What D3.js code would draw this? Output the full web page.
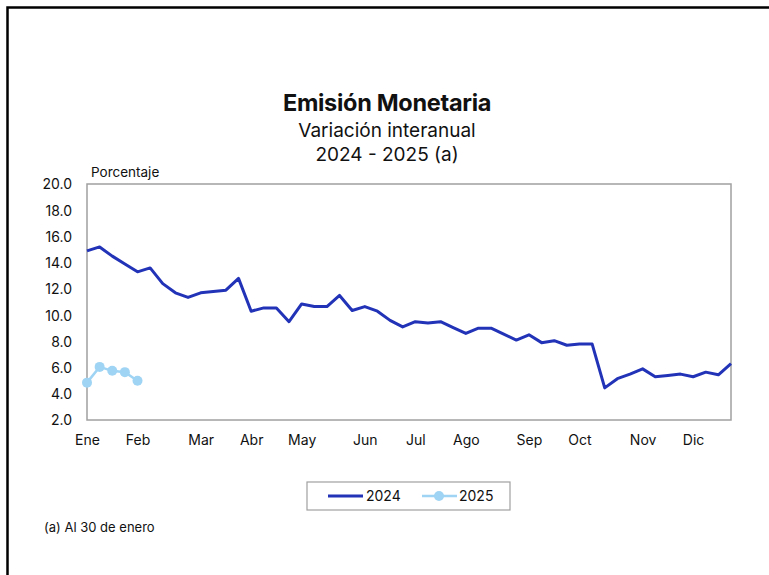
<!DOCTYPE html>
<html>
<head>
<meta charset="utf-8">
<script src="https://cdn.jsdelivr.net/npm/d3@7"></script>
<style>
  body { margin: 0; background: #fff; }
  text { font-family: Inter, "Noto Sans", sans-serif; fill: #111; }
</style>
</head>
<body>
<div id="chart"></div>
<script>
// weekly data, 52 weeks
var monthLabels = ["Ene", "Feb", "Mar", "Abr", "May", "Jun", "Jul", "Ago", "Sep", "Oct", "Nov", "Dic"];
var monthWeek = [0, 4, 9, 13, 17, 22, 26, 30, 35, 39, 44, 48];
var serie2024 = [14.9, 15.2, 14.5, 13.9, 13.3, 13.6, 12.4, 11.7, 11.35, 11.7,
                 11.8, 11.9, 12.8, 10.3, 10.55, 10.55, 9.5, 10.85, 10.65, 10.65,
                 11.5, 10.35, 10.65, 10.3, 9.6, 9.1, 9.5, 9.4, 9.5, 9.05,
                 8.6, 9.0, 9.0, 8.55, 8.1, 8.5, 7.9, 8.05, 7.7, 7.8,
                 7.8, 4.45, 5.15, 5.5, 5.9, 5.3, 5.4, 5.5, 5.3, 5.65,
                 5.45, 6.3];
var serie2025 = [4.85, 6.05, 5.75, 5.65, 5.0];
var yTicks = [2, 4, 6, 8, 10, 12, 14, 16, 18, 20];

var svgWidth = 769, svgHeight = 575;
var margin = {top: 184, right: 38, bottom: 155, left: 87};
var width = svgWidth - margin.left - margin.right;
var height = svgHeight - margin.top - margin.bottom;

var svgBG = d3.select("#chart").append("svg")
    .attr("width", svgWidth)
    .attr("height", svgHeight);

// outer frame (right/bottom edges run off the page)
svgBG.append("rect")
    .attr("x", 7.5).attr("y", 7.5)
    .attr("width", svgWidth + 20).attr("height", svgHeight + 20)
    .attr("fill", "none").attr("stroke", "#000").attr("stroke-width", 2.5);

var svg = svgBG.append("g")
    .attr("transform", "translate(" + margin.left + "," + margin.top + ")");

var x = d3.scalePoint()
    .domain(d3.range(serie2024.length))
    .range([0, width]);
var y = d3.scaleLinear().domain([2, 20]).range([height, 0]);

// titles
var cx = 387;
svgBG.append("text").attr("x", cx).attr("y", 111)
    .attr("text-anchor", "middle").style("font-size", "23.5px").style("font-weight", "700")
    .style("letter-spacing", "-0.3px")
    .text("Emisión Monetaria");
svgBG.append("text").attr("x", cx).attr("y", 137)
    .attr("text-anchor", "middle").style("font-size", "19px")
    .text("Variación interanual");
svgBG.append("text").attr("x", cx).attr("y", 161)
    .attr("text-anchor", "middle").style("font-size", "19px")
    .text("2024 - 2025 (a)");
svgBG.append("text").attr("x", 91).attr("y", 177)
    .style("font-size", "13.5px")
    .text("Porcentaje");

// y axis
var yAxis = d3.axisLeft(y).tickValues(yTicks).tickSize(0).tickPadding(15)
    .tickFormat(d3.format(".1f"));
var yAxisSVG = svg.append("g").attr("class", "y axis").call(yAxis);
yAxisSVG.select(".domain").remove();
yAxisSVG.selectAll("text").style("font-size", "14px").attr("dy", "0.35em");

// x axis
var xAxis = d3.axisBottom(x).tickValues(monthWeek).tickSize(0).tickPadding(15)
    .tickFormat(function(d) { return monthLabels[monthWeek.indexOf(d)]; });
var xAxisSVG = svg.append("g").attr("class", "x axis")
    .attr("transform", "translate(0," + height + ")")
    .call(xAxis);
xAxisSVG.select(".domain").remove();
xAxisSVG.selectAll("text").style("font-size", "14px");

// plot frame
svg.append("rect")
    .attr("x", 0).attr("y", 0).attr("width", width).attr("height", height)
    .attr("fill", "none").attr("stroke", "#a0a0a0").attr("stroke-width", 1.5);

var line = d3.line()
    .x(function(d, i) { return x(i); })
    .y(function(d) { return y(d); });

svg.append("path").datum(serie2024)
    .attr("d", line)
    .attr("fill", "none").attr("stroke", "#2233b8").attr("stroke-width", 3)
    .attr("stroke-linejoin", "round");

svg.append("path").datum(serie2025)
    .attr("d", line)
    .attr("fill", "none").attr("stroke", "#9fd4f4").attr("stroke-width", 2.5);

svg.selectAll(".dot25").data(serie2025).enter().append("circle")
    .attr("class", "dot25")
    .attr("cx", function(d, i) { return x(i); })
    .attr("cy", function(d) { return y(d); })
    .attr("r", 5)
    .attr("fill", "#9fd4f4");

// legend
var leg = svgBG.append("g").attr("transform", "translate(307,482)");
leg.append("rect").attr("width", 203).attr("height", 28)
    .attr("fill", "#fff").attr("stroke", "#a0a0a0").attr("stroke-width", 1.2);
leg.append("line").attr("x1", 21).attr("x2", 56).attr("y1", 14).attr("y2", 14)
    .attr("stroke", "#2233b8").attr("stroke-width", 3);
leg.append("text").attr("x", 59).attr("y", 19).style("font-size", "14px").text("2024");
leg.append("line").attr("x1", 115).attr("x2", 150).attr("y1", 14).attr("y2", 14)
    .attr("stroke", "#9fd4f4").attr("stroke-width", 2.5);
leg.append("circle").attr("cx", 132).attr("cy", 14).attr("r", 5).attr("fill", "#9fd4f4");
leg.append("text").attr("x", 152).attr("y", 19).style("font-size", "14px").text("2025");

// footnote
svgBG.append("text").attr("x", 44).attr("y", 532)
    .style("font-size", "13px")
    .text("(a) Al 30 de enero");
</script>
</body>
</html>
